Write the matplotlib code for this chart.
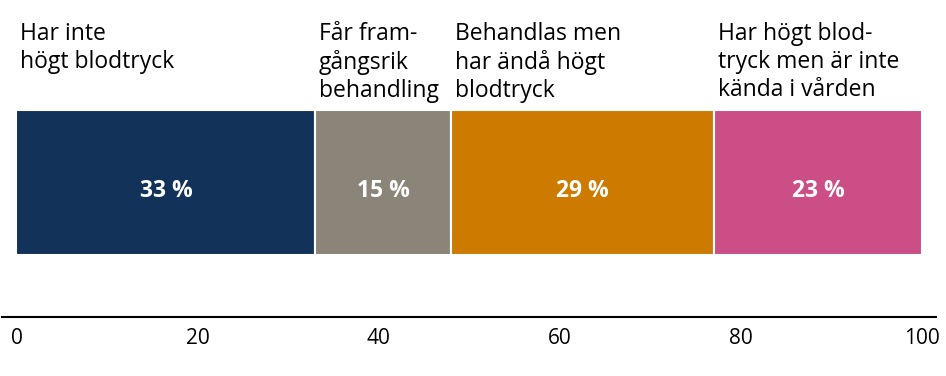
import matplotlib.pyplot as plt

categories = ["Har inte\nhögt blodtryck",
              "Får fram-\ngångsrik\nbehandling",
              "Behandlas men\nhar ändå högt\nblodtryck",
              "Har högt blod-\ntryck men är inte\nkända i vården"]
values = [33, 15, 29, 23]
colors = ["#12325a", "#8b8479", "#cc7a00", "#cc4e86"]
ticks = [0, 20, 40, 60, 80, 100]

plt.rcParams['font.family'] = ['Open Sans', 'DejaVu Sans']

fig = plt.figure(figsize=(9.46, 3.76), dpi=100)
ax = fig.add_axes([2 / 946, 1 - 317 / 376, 934 / 946, 317 / 376])

left = 0
for cat, val, col in zip(categories, values, colors):
    ax.barh(0, val, left=left, height=1, color=col, edgecolor="white", linewidth=1.5)
    ax.text(left + val / 2, -0.06, f"{val} %", color="white", fontsize=16.5,
            fontweight="bold", ha="center", va="center")
    ax.annotate(cat, xy=(left, 1), xycoords=("data", "axes fraction"),
                xytext=(2.5, -16), textcoords="offset points",
                ha="left", va="top", fontsize=16.5, linespacing=1.22)
    left += val

ax.set_xlim(-1.6, 101.5)
ax.set_ylim(-0.928, 1.259)
ax.set_xticks(ticks)
ax.set_yticks([])
ax.tick_params(axis="x", length=0, pad=8, labelsize=15)
for s in ["top", "right", "left"]:
    ax.spines[s].set_visible(False)
ax.spines["bottom"].set_linewidth(1.5)

fig.savefig("out.png", dpi=100)
